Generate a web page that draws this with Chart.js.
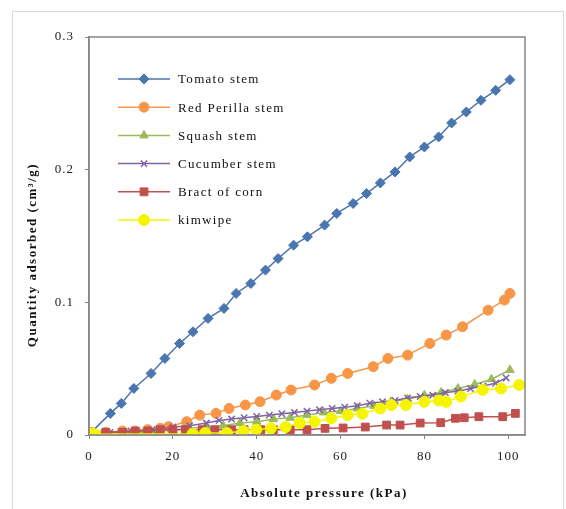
<!DOCTYPE html>
<html>
<head>
<meta charset="utf-8">
<script src="https://cdn.jsdelivr.net/npm/chart.js@4/dist/chart.umd.min.js"></script>
<style>
    html, body { margin: 0; padding: 0; background: #fff; }
    #wrap { width: 566px; height: 509px; position: relative; }
</style>
</head>
<body>
<div id="wrap"><canvas id="isothermChart"></canvas></div>
<script>
        // Series names (legend order)
        const seriesNames = ['Tomato stem', 'Red Perilla stem', 'Squash stem', 'Cucumber stem', 'Bract of corn', 'kimwipe'];

        // Tomato stem
        const tomatoX = [0.5, 5.1, 7.7, 10.7, 14.8, 18.1, 21.6, 24.8, 28.4, 32.2, 35.1, 38.6, 42.1, 45.1, 48.8, 52.1, 56.2, 59.1, 63.0, 66.2, 69.5, 73.0, 76.5, 80.0, 83.4, 86.5, 90.0, 93.5, 97.0, 100.4];
        const tomatoY = [0.002, 0.0163, 0.0238, 0.0351, 0.0464, 0.0577, 0.069, 0.0778, 0.0879, 0.0954, 0.1067, 0.1142, 0.1243, 0.133, 0.1431, 0.1494, 0.1582, 0.167, 0.1745, 0.182, 0.19, 0.1983, 0.2096, 0.2171, 0.2247, 0.2352, 0.2435, 0.2523, 0.2598, 0.2678];

        // Red Perilla stem
        const perillaX = [0.5, 4, 8, 11, 14, 17, 19.0, 23.3, 26.4, 30.3, 33.4, 37.3, 40.8, 44.7, 48.2, 53.8, 57.8, 61.7, 67.8, 71.3, 76.0, 81.3, 85.2, 89.1, 95.2, 99.1, 100.4];
        const perillaY = [0.002, 0.002, 0.003, 0.003, 0.004, 0.005, 0.0063, 0.010, 0.015, 0.0163, 0.020, 0.0226, 0.0251, 0.0301, 0.0339, 0.0377, 0.0427, 0.0464, 0.0515, 0.0577, 0.0602, 0.069, 0.0753, 0.0816, 0.0941, 0.1017, 0.1067];

        // Squash stem
        const squashX = [0.5, 4, 8, 12, 16, 20, 24, 28, 32, 36, 40, 44, 48, 52, 56, 60, 64, 68, 72, 76, 80, 84, 88, 92, 96, 100.4];
        const squashY = [0.000, 0.001, 0.002, 0.002, 0.003, 0.004, 0.005, 0.006, 0.007, 0.009, 0.010, 0.012, 0.013, 0.015, 0.017, 0.018, 0.020, 0.022, 0.025, 0.027, 0.030, 0.032, 0.035, 0.038, 0.042, 0.049];

        // Cucumber stem
        const cucumberX = [0.5, 5, 10, 15, 20, 24, 28, 31, 34, 37, 40, 43, 46, 49, 52, 55, 58, 61, 64, 67, 70, 73, 76, 79, 82, 85, 88, 91, 94, 97, 99.5];
        const cucumberY = [0.001, 0.002, 0.003, 0.004, 0.006, 0.007, 0.009, 0.011, 0.012, 0.013, 0.014, 0.015, 0.016, 0.017, 0.018, 0.019, 0.020, 0.021, 0.022, 0.024, 0.025, 0.026, 0.028, 0.029, 0.030, 0.032, 0.033, 0.035, 0.037, 0.039, 0.043];

        // Bract of corn
        const bractX = [0.5, 4, 8, 11, 14, 17, 20, 23, 27, 30, 34, 37, 41, 44, 48, 52, 56.3, 60.6, 65.9, 71.0, 74.2, 79.0, 83.9, 87.4, 89.5, 93.0, 98.7, 101.7];
        const bractY = [0.001, 0.002, 0.002, 0.003, 0.003, 0.004, 0.004, 0.004, 0.004, 0.004, 0.004, 0.004, 0.004, 0.004, 0.004, 0.004, 0.005, 0.0053, 0.006, 0.0075, 0.0075, 0.009, 0.0093, 0.0126, 0.013, 0.0138, 0.0138, 0.0163];

        // kimwipe
        const kimwipeX = [0.5, 1.5, 24.7, 27.7, 32.9, 36.8, 39.9, 43.4, 46.9, 50.3, 53.8, 57.8, 61.7, 65.2, 69.5, 72.1, 75.6, 80.0, 83.4, 85.2, 88.7, 93.9, 98.3, 102.6];
        const kimwipeY = [0.001, 0.0005, 0.001, 0.0015, 0.0015, 0.003, 0.004, 0.005, 0.006, 0.009, 0.010, 0.0125, 0.015, 0.016, 0.020, 0.0226, 0.0226, 0.025, 0.026, 0.025, 0.029, 0.034, 0.035, 0.0377];

        // Axis ticks
        const xTicks = [0, 20, 40, 60, 80, 100];
        const yTicks = [0, 0.1, 0.2, 0.3];

        const toPoints = (xs, ys) => xs.map((x, i) => ({ x: x, y: ys[i] }));

        const styles = [
            { color: '#4a76b0', pointStyle: 'rectRot', radius: 5 },
            { color: '#f79646', pointStyle: 'circle', radius: 5 },
            { color: '#9bbb59', pointStyle: 'triangle', radius: 5 },
            { color: '#8064a2', pointStyle: 'crossRot', radius: 4.5 },
            { color: '#c0504d', pointStyle: 'rect', radius: 5.5 },
            { color: '#f5f500', pointStyle: 'circle', radius: 5.5 }
        ];
        const seriesData = [
            toPoints(tomatoX, tomatoY),
            toPoints(perillaX, perillaY),
            toPoints(squashX, squashY),
            toPoints(cucumberX, cucumberY),
            toPoints(bractX, bractY),
            toPoints(kimwipeX, kimwipeY)
        ];

        const serif = '"Liberation Serif", "DejaVu Serif", serif';

        // Frame, plot border, legend and axis titles
        const decorPlugin = {
            id: 'decor',
            beforeDraw(chart) {
                const ctx = chart.ctx;
                ctx.save();
                ctx.strokeStyle = '#d9d9d9';
                ctx.lineWidth = 1;
                ctx.strokeRect(12.5, 11.5, 551, 520);
                ctx.restore();
                ctx.letterSpacing = '1px';
            },
            afterDraw(chart) {
                const ctx = chart.ctx;
                const a = chart.chartArea;
                ctx.save();
                ctx.strokeStyle = '#868686';
                ctx.lineWidth = 1.5;
                ctx.strokeRect(a.left, a.top, a.right - a.left, a.bottom - a.top);

                // legend
                ctx.font = '13px ' + serif;
                ctx.letterSpacing = '1.3px';
                ctx.textBaseline = 'middle';
                chart.data.datasets.forEach((ds, i) => {
                    const y = 79 + i * 28.2;
                    ctx.strokeStyle = ds.borderColor;
                    ctx.lineWidth = 1.5;
                    ctx.beginPath();
                    ctx.moveTo(118, y);
                    ctx.lineTo(170, y);
                    ctx.stroke();
                    if (Chart.helpers && Chart.helpers.drawPoint) {
                        ctx.fillStyle = ds.pointBackgroundColor;
                        ctx.strokeStyle = ds.pointBorderColor;
                        ctx.lineWidth = ds.pointBorderWidth;
                        Chart.helpers.drawPoint(ctx, { pointStyle: ds.pointStyle, radius: ds.pointRadius, rotation: 0, borderWidth: ds.pointBorderWidth }, 144, y);
                    }
                    ctx.fillStyle = '#111';
                    ctx.fillText(ds.label, 178, y + 1);
                });

                // axis titles
                ctx.font = 'bold 13px ' + serif;
                ctx.letterSpacing = '1.5px';
                ctx.textAlign = 'center';
                ctx.fillStyle = '#111';
                ctx.fillText('Absolute pressure (kPa)', 324, 494);
                ctx.translate(33, 255);
                ctx.rotate(-Math.PI / 2);
                ctx.fillText('Quantity adsorbed (cm³/g)', 0, 0);
                ctx.restore();
            }
        };

        const isoCtx = document.getElementById('isothermChart').getContext('2d');
        new Chart(isoCtx, {
            type: 'line',
            data: {
                datasets: seriesNames.map((name, i) => ({
                    label: name,
                    data: seriesData[i],
                    borderColor: styles[i].color,
                    backgroundColor: styles[i].color,
                    pointBackgroundColor: styles[i].color,
                    pointBorderColor: styles[i].color,
                    pointBorderWidth: styles[i].pointStyle === 'crossRot' ? 1.5 : 1,
                    pointStyle: styles[i].pointStyle,
                    pointRadius: styles[i].radius,
                    borderWidth: 1.5,
                    tension: 0,
                    fill: false,
                    order: seriesNames.length - i
                }))
            },
            options: {
                responsive: true,
                maintainAspectRatio: false,
                animation: false,
                layout: { padding: { left: 0, right: 41, top: 37, bottom: 0 } },
                plugins: {
                    legend: { display: false },
                    tooltip: { enabled: false }
                },
                scales: {
                    x: {
                        type: 'linear',
                        min: 0,
                        max: 104,
                        afterFit: s => { s.height = 74; },
                        afterBuildTicks: s => { s.ticks = xTicks.map(v => ({ value: v })); },
                        ticks: { font: { family: serif, size: 13 }, color: '#222', padding: 10, maxRotation: 0 },
                        grid: { drawOnChartArea: false, tickLength: 4, color: '#868686' },
                        border: { color: '#868686', width: 1.5 }
                    },
                    y: {
                        min: 0,
                        max: 0.3,
                        afterFit: s => { s.width = 89; },
                        afterBuildTicks: s => { s.ticks = yTicks.map(v => ({ value: v })); },
                        ticks: { font: { family: serif, size: 13 }, color: '#222', padding: 11 },
                        grid: { drawOnChartArea: false, tickLength: 4, color: '#868686' },
                        border: { color: '#868686', width: 1.5 }
                    }
                }
            },
            plugins: [decorPlugin]
        });
</script>
</body>
</html>
